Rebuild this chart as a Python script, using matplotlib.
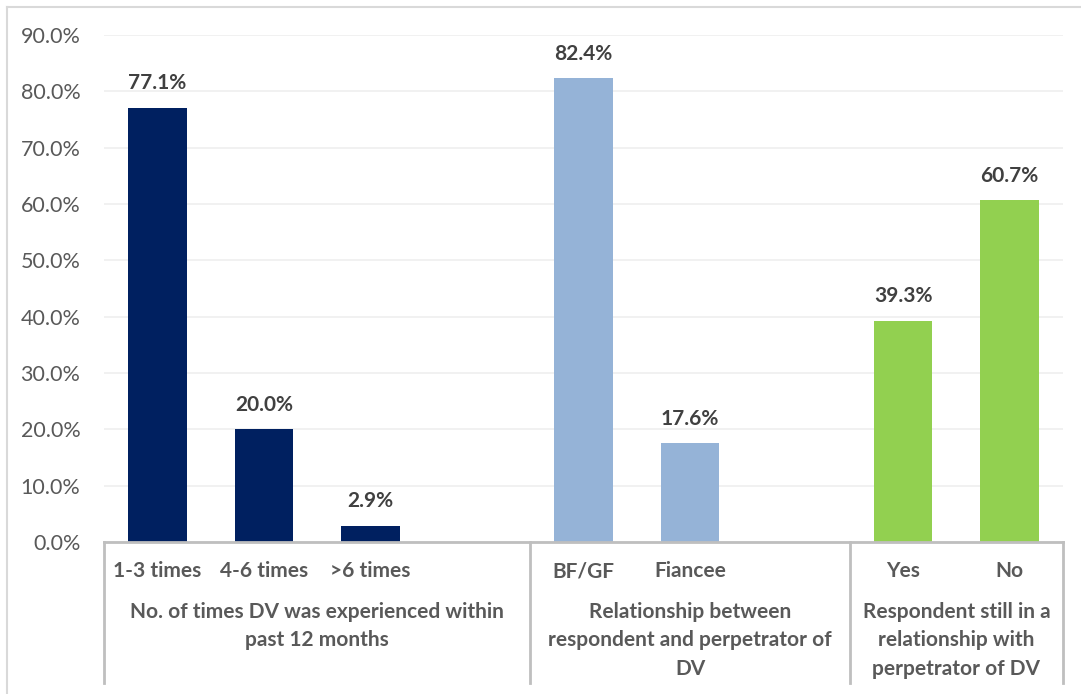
import matplotlib.pyplot as plt
from matplotlib.transforms import blended_transform_factory
from matplotlib.lines import Line2D

plt.rcParams['font.family'] = ['Lato', 'DejaVu Sans']

# data for the three question groups
times_labels = ['1-3 times', '4-6 times', '>6 times']
times_values = [77.1, 20.0, 2.9]
rel_labels = ['BF/GF', 'Fiancee']
rel_values = [82.4, 17.6]
still_labels = ['Yes', 'No']
still_values = [39.3, 60.7]
group_titles = [['No. of times DV was experienced within', 'past 12 months'],
                ['Relationship between', 'respondent and perpetrator of', 'DV'],
                ['Respondent still in a', 'relationship with', 'perpetrator of DV']]
yticks = [0, 10, 20, 30, 40, 50, 60, 70, 80, 90]

colors = ['#002060', '#95B3D7', '#92D050']
txt = '#595959'
W, H = 1081, 694

fig = plt.figure(figsize=(W / 100, H / 100), dpi=100)
ax = fig.add_axes([104 / W, 152 / H, (1063 - 104) / W, (659 - 152) / H])

# slot positions: a blank slot separates each group
groups = [(times_labels, times_values, 0), (rel_labels, rel_values, 4), (still_labels, still_values, 7)]
trans = blended_transform_factory(ax.transData, fig.transFigure)
for gi, (labels, values, start) in enumerate(groups):
    xs = [start + i for i in range(len(labels))]
    bars = ax.bar(xs, values, width=0.55, color=colors[gi], zorder=2)
    for b, v in zip(bars, values):
        ax.annotate(f'{v:.1f}%', (b.get_x() + b.get_width() / 2, v), xytext=(0, 17.5),
                    textcoords='offset points', ha='center', va='center',
                    fontsize=15, fontweight='bold', color='#404040')
    for x, lab in zip(xs, labels):
        ax.text(x, 1 - 577 / H, lab, transform=trans, ha='center', va='baseline',
                fontsize=15, fontweight='bold', color=txt)

# group titles and separators below the axis
seps = [-0.5, 3.5, 6.5, 8.5]
for gi, lines in enumerate(group_titles):
    cx = (seps[gi] + seps[gi + 1]) / 2
    for li, line in enumerate(lines):
        ax.text(cx, 1 - (618 + 28.5 * li) / H, line, transform=trans, ha='center',
                va='baseline', fontsize=15, fontweight='bold', color=txt)
for s in seps:
    fig.add_artist(Line2D([s, s], [1 - 542 / H, 1 - 683 / H], transform=trans,
                          color='#bfbfbf', lw=2))

ax.set_xlim(-0.5, 8.5)
ax.set_ylim(0, 90)
ax.set_yticks(yticks)
ax.set_yticklabels([f'{t:.1f}%' for t in yticks], fontsize=15.5, color=txt)
ax.tick_params(axis='y', length=0, pad=17)
ax.set_xticks([])
ax.yaxis.grid(True, color='#efefef', lw=1.2, zorder=0)
for side in ['top', 'right', 'left']:
    ax.spines[side].set_visible(False)
ax.spines['bottom'].set_color('#bfbfbf')
ax.spines['bottom'].set_linewidth(2)
ax.spines['bottom'].set_zorder(3)

# outer chart frame
fig.add_artist(Line2D([7 / W, 7 / W], [0, 1 - 7 / H], transform=fig.transFigure, color='#d9d9d9', lw=1.5))
fig.add_artist(Line2D([7 / W, 1], [1 - 7 / H, 1 - 7 / H], transform=fig.transFigure, color='#d9d9d9', lw=1.5))

fig.savefig('out.png', dpi=100)
